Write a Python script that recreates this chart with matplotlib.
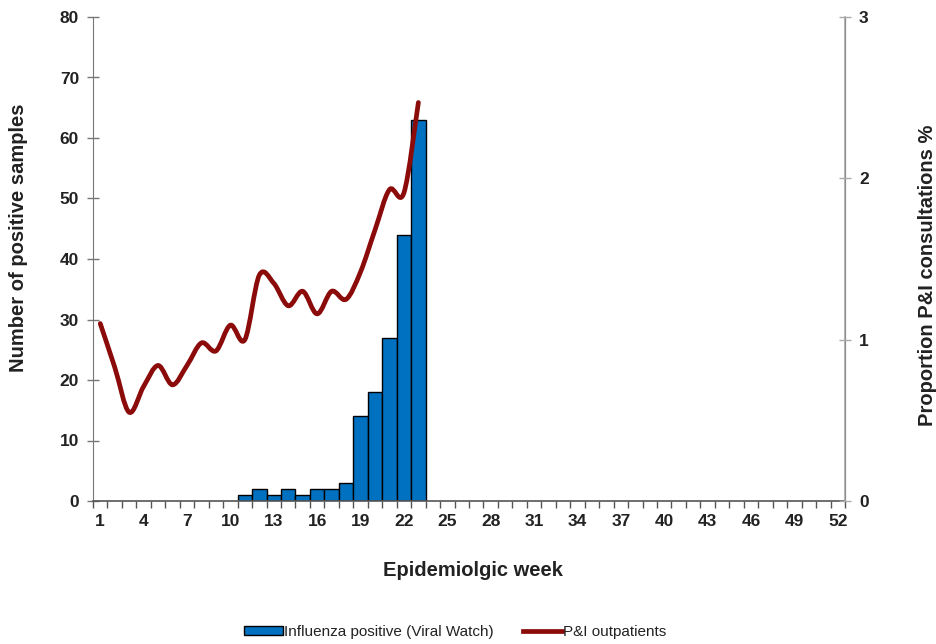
import matplotlib
matplotlib.use("Agg")
import matplotlib.pyplot as plt
import numpy as np
from matplotlib.path import Path
from matplotlib.patches import PathPatch
from matplotlib.lines import Line2D

plt.rcParams['font.family'] = ['Liberation Sans', 'DejaVu Sans']

weeks = list(range(1, 53))
bar_weeks = [11, 12, 13, 14, 15, 16, 17, 18, 19, 20, 21, 22, 23]
positives = [1, 2, 1, 2, 1, 2, 2, 3, 14, 18, 27, 44, 63]
line_weeks = list(range(1, 24))
pi_prop = [1.10, 0.83, 0.55, 0.71, 0.84, 0.72, 0.84, 0.98, 0.93, 1.09, 1.00,
           1.40, 1.35, 1.21, 1.30, 1.16, 1.30, 1.25, 1.42, 1.68, 1.93, 1.91, 2.47]
xtick_weeks = list(range(1, 53, 3))

bar_color = '#0070C0'
line_color = '#8B0A0A'
text_color = '#222222'

fig = plt.figure(figsize=(9.37, 6.44), dpi=100)
ax = fig.add_axes([93/937, 1-501/644, (845-93)/937, (501-17)/644])
ax2 = ax.twinx()

bars = ax.bar(bar_weeks, positives, width=1.0, color=bar_color,
              edgecolor='black', linewidth=1.0, zorder=2)

# smoothed line (Catmull-Rom style bezier, as in spreadsheet smoothing)
px = np.array(line_weeks, dtype=float)
py = np.array(pi_prop, dtype=float)
verts = [(px[0], py[0])]
codes = [Path.MOVETO]
n = len(px)
for i in range(n - 1):
    p0 = np.array([px[max(i-1, 0)], py[max(i-1, 0)]])
    p1 = np.array([px[i], py[i]])
    p2 = np.array([px[i+1], py[i+1]])
    p3 = np.array([px[min(i+2, n-1)], py[min(i+2, n-1)]])
    c1 = p1 + (p2 - p0) / 6.0
    c2 = p2 - (p3 - p1) / 6.0
    verts += [tuple(c1), tuple(c2), tuple(p2)]
    codes += [Path.CURVE4, Path.CURVE4, Path.CURVE4]
patch = PathPatch(Path(verts, codes), facecolor='none', edgecolor=line_color,
                  linewidth=3.4, capstyle='round', joinstyle='round', zorder=3)
ax2.add_patch(patch)

ax.set_xlim(0.5, 52.5)
ax.set_ylim(0, 80)
ax2.set_ylim(0, 3)

tick_fs = 12.5
ax.set_xticks(xtick_weeks)
ax.set_xticklabels([str(w) for w in xtick_weeks])
ax.set_xticks(np.arange(0.5, 53, 1.0), minor=True)
ax.tick_params(axis='x', which='major', length=0, pad=9, labelsize=tick_fs)
ax.tick_params(axis='x', which='minor', length=5, direction='out', color='#555555', width=1)
for lab in ax.get_xticklabels():
    lab.set_fontweight('bold')
    lab.set_color(text_color)

ax.set_yticks(range(0, 81, 10))
ax.tick_params(axis='y', length=8, direction='inout', color='#777777', width=1,
               labelsize=tick_fs, pad=6)
for lab in ax.get_yticklabels():
    lab.set_fontweight('bold')
    lab.set_color(text_color)
ax2.set_yticks([0, 1, 2, 3])
ax2.tick_params(axis='y', length=8, direction='inout', color='#aaaaaa', width=1,
                labelsize=tick_fs, pad=6)
for lab in ax2.get_yticklabels():
    lab.set_fontweight('bold')
    lab.set_color(text_color)

for a in (ax, ax2):
    a.spines['top'].set_visible(False)
ax.spines['left'].set_color('#777777')
ax.spines['bottom'].set_color('#555555')
ax.spines['bottom'].set_linewidth(1.2)
ax2.spines['right'].set_color('#aaaaaa')
ax2.spines['right'].set_linewidth(1.2)
ax2.spines['left'].set_visible(False)
ax2.spines['bottom'].set_visible(False)

label_fs = 14.5
ax.set_xlabel('Epidemiolgic week', fontsize=label_fs, fontweight='bold', color=text_color,
              va='center', ha='center')
ax.xaxis.set_label_coords((473-93)/752, (501-571)/484)
ax.set_ylabel('Number of positive samples', fontsize=label_fs, fontweight='bold', color=text_color,
              va='center', ha='center')
ax.yaxis.set_label_coords((19-93)/752, (501-238)/484)
ax2.set_ylabel('Proportion P&I consultations %', fontsize=label_fs, fontweight='bold', color=text_color,
               va='center', ha='center')
ax2.yaxis.set_label_coords((928-93)/752, (501-275)/484)

line_handle = Line2D([], [], color=line_color, linewidth=3.4)
leg = fig.legend([bars, line_handle], ['Influenza positive (Viral Watch)', 'P&I outpatients'],
                 loc='center', bbox_to_anchor=(455/937, 1-632/644), ncol=2, frameon=False,
                 fontsize=11, handlelength=2.6, handleheight=0.45, handletextpad=0.05,
                 columnspacing=1.9)
for t in leg.get_texts():
    t.set_color(text_color)

fig.savefig('out.png', dpi=100)
